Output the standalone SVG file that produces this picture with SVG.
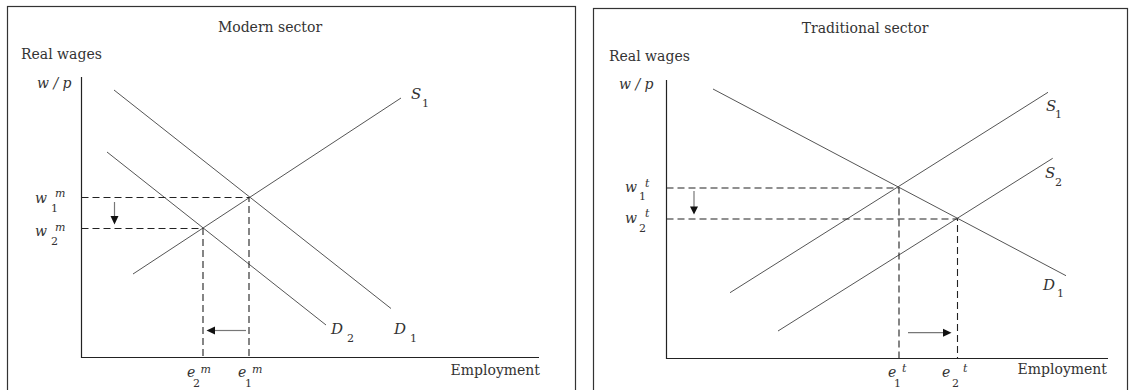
<svg xmlns="http://www.w3.org/2000/svg" width="1129" height="390" viewBox="0 0 1129 390">
<style>
.bg{fill:#fff}
.frame{fill:none;stroke:#333;stroke-width:1.2}
.axis{fill:none;stroke:#222;stroke-width:1.2}
.curve{fill:none;stroke:#555;stroke-width:1}
.dash{fill:none;stroke:#222;stroke-width:1.1;stroke-dasharray:7 4}
.shaft{fill:none;stroke:#777;stroke-width:1.2}
.head{fill:#111}
text{font-family:"DejaVu Serif","Liberation Serif",serif;fill:#333}
.t{font-size:14px}
.t2{font-size:13.5px}
.m{font-size:14px;font-style:italic}
.L{font-size:15px;font-style:italic}
.s{font-size:11px}
.si{font-size:11px;font-style:italic}
</style>
<rect class="bg" x="0" y="0" width="1129" height="390"/>

<g id="modern-sector">
  <rect class="frame" x="7.5" y="6.5" width="568" height="400"/>
  <text class="t" x="270" y="32" text-anchor="middle">Modern sector</text>
  <text class="t" x="21" y="59">Real wages</text>
  <text class="m" x="37" y="88">w / p</text>
  <path class="axis" d="M81.5,77 V357.5 H539"/>
  <g id="m-curves">
    <line class="curve" x1="114" y1="90" x2="391" y2="308.5"/>
    <line class="curve" x1="133" y1="274" x2="401" y2="98"/>
    <line class="curve" x1="107" y1="152" x2="326" y2="325"/>
  </g>
  <g id="m-guides">
    <path class="dash" d="M81.5,197.5 H249 V357"/>
    <path class="dash" d="M81.5,228.5 H203 V357"/>
  </g>
  <g id="m-arrows">
    <line class="shaft" x1="114.5" y1="202" x2="114.5" y2="217"/>
    <polygon class="head" points="110.5,216 118.5,216 114.5,224.5"/>
    <line class="shaft" x1="246" y1="330.5" x2="214" y2="330.5"/>
    <polygon class="head" points="206.5,330.5 215,326.5 215,334.5"/>
  </g>
  <g id="m-labels">
    <text class="m" x="35" y="203">w</text><text class="si" x="55" y="196.5">m</text><text class="s" x="51" y="212">1</text>
    <text class="m" x="35" y="236">w</text><text class="si" x="55" y="231">m</text><text class="s" x="51" y="245">2</text>
    <text class="m" x="187" y="377">e</text><text class="si" x="200.5" y="372.5">m</text><text class="s" x="193" y="387">2</text>
    <text class="m" x="238" y="377">e</text><text class="si" x="252" y="372.5">m</text><text class="s" x="245" y="387">1</text>
    <text class="L" x="331" y="334">D</text><text class="s" x="347" y="342">2</text>
    <text class="L" x="394" y="334">D</text><text class="s" x="410" y="342">1</text>
    <text class="L" x="411" y="99">S</text><text class="s" x="422" y="107">1</text>
    <text class="t" x="540" y="375" text-anchor="end">Employment</text>
  </g>
</g>

<g id="traditional-sector">
  <rect class="frame" x="593.5" y="8.5" width="534" height="400"/>
  <text class="t" x="865" y="33" text-anchor="middle">Traditional sector</text>
  <text class="t" x="609" y="61">Real wages</text>
  <text class="m" x="619" y="89">w / p</text>
  <path class="axis" d="M666.5,80 V358.5 H1108"/>
  <g id="t-curves">
    <line class="curve" x1="713" y1="89" x2="1066" y2="275.7"/>
    <line class="curve" x1="730" y1="292.7" x2="1048" y2="92.3"/>
    <line class="curve" x1="778" y1="331" x2="1052.7" y2="158.3"/>
  </g>
  <g id="t-guides">
    <path class="dash" d="M666.5,188 H899 V358"/>
    <path class="dash" d="M666.5,219 H957.5 V358"/>
  </g>
  <g id="t-arrows">
    <line class="shaft" x1="694" y1="191" x2="694" y2="207"/>
    <polygon class="head" points="690,206.5 698,206.5 694,214.5"/>
    <line class="shaft" x1="908" y1="332.7" x2="944" y2="332.7"/>
    <polygon class="head" points="951.5,332.7 943,328.7 943,336.7"/>
  </g>
  <g id="t-labels">
    <text class="m" x="625" y="191.5">w</text><text class="si" x="645" y="186.5">t</text><text class="s" x="639" y="200">1</text>
    <text class="m" x="625" y="223">w</text><text class="si" x="645" y="216.5">t</text><text class="s" x="639" y="231.5">2</text>
    <text class="m" x="888" y="377">e</text><text class="si" x="902" y="372">t</text><text class="s" x="894" y="387">1</text>
    <text class="m" x="942" y="377">e</text><text class="si" x="963" y="372">t</text><text class="s" x="952" y="387">2</text>
    <text class="L" x="1046" y="110.5">S</text><text class="s" x="1055" y="118">1</text>
    <text class="L" x="1045" y="178">S</text><text class="s" x="1055" y="186">2</text>
    <text class="L" x="1043" y="290">D</text><text class="s" x="1057" y="297">1</text>
    <text class="t" x="1107" y="374" text-anchor="end">Employment</text>
  </g>
</g>
</svg>
